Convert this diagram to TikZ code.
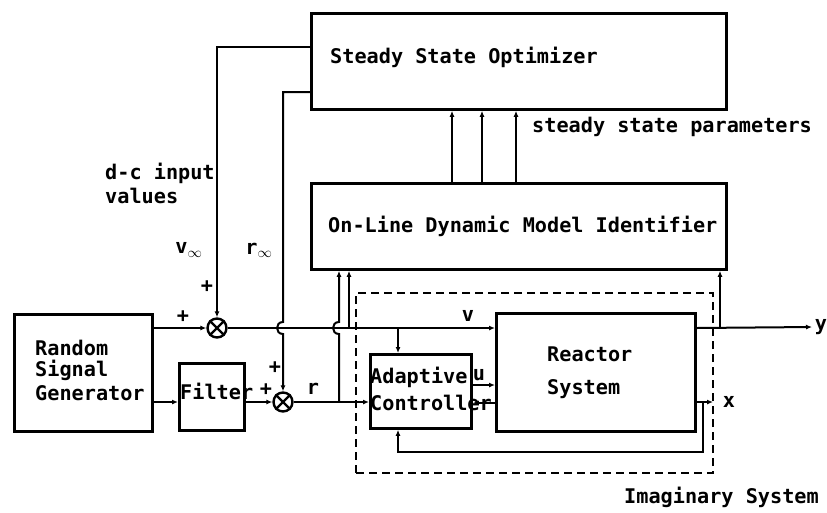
\documentclass[tikz,border=0pt]{standalone}
\usepackage{fontspec}
\setmonofont{DejaVu Sans Mono}
\usetikzlibrary{arrows.meta}
\begin{document}
\begin{tikzpicture}[x=1pt,y=-1pt,
  box/.style={draw,line width=2.8pt,inner sep=0pt,anchor=north west},
  lbl/.style={font=\ttfamily\bfseries\fontsize{20.2}{23}\selectfont,inner sep=0pt},
  ln/.style={line width=2pt},
  arr/.style={ln,-{Latex[length=6pt,width=5pt]}},
  sumj/.style={draw,circle,line width=2.4pt,minimum size=19pt,inner sep=0pt},
  imagbox/.style={draw,line width=2pt,dash pattern=on 8pt off 5pt,inner sep=0pt,anchor=north west},
]
\useasboundingbox (0,0) rectangle (827,512);

% boxes
\node[box,minimum width=415pt,minimum height=96pt] (sso) at (310,12) {};
\node[box,minimum width=415pt,minimum height=86pt] (ol) at (310,182) {};
\node[box,minimum width=138pt,minimum height=117pt] (rsg) at (13,313) {};
\node[box,minimum width=65pt,minimum height=67pt] (filt) at (178,362) {};
\node[box,minimum width=101pt,minimum height=74pt] (ac) at (369,353) {};
\node[box,minimum width=199pt,minimum height=118pt] (rs) at (495,312) {};
\node[imagbox,minimum width=357pt,minimum height=180pt] (imag) at (355,292) {};
\node[sumj] (j1) at (217,328) {};
\node[sumj] (j2) at (283,402) {};
\draw[line width=2.2pt] (j1.north west) -- (j1.south east) (j1.north east) -- (j1.south west);
\draw[line width=2.2pt] (j2.north west) -- (j2.south east) (j2.north east) -- (j2.south west);

% texts
\node[lbl,anchor=west] (tsso) at (330,57) {Steady State Optimizer};
\node[lbl,anchor=west] (tol) at (328,226) {On-Line Dynamic Model Identifier};
\node[lbl,anchor=west] (tssp) at (532,127) {steady state parameters};
\node[lbl,anchor=west] (tdc1) at (105,173) {d-c input};
\node[lbl,anchor=west] (tdc2) at (105,196) {values};
\node[lbl,anchor=west] (trsg1) at (35,348) {Random};
\node[lbl,anchor=west] (trsg2) at (35,370) {Signal};
\node[lbl,anchor=west] (trsg3) at (35,393) {Generator};
\node[lbl,anchor=west] (tfilt) at (180,391) {Filter};
\node[lbl,anchor=west] (tac1) at (370,377) {Adaptive};
\node[lbl,anchor=west] (tac2) at (370,403) {Controller};
\node[lbl,anchor=west] (trs1) at (547,354) {Reactor};
\node[lbl,anchor=west] (trs2) at (547,389) {System};
\node[lbl,anchor=west] (timag) at (624,497) {Imaginary System};
\node[lbl] (tv) at (468,316) {v};
\node[lbl] (tu) at (479,375) {u};
\node[lbl] (tr) at (313,389) {r};
\node[lbl] (tx) at (729,402) {x};
\node[lbl] (ty) at (821,327) {y};
\node[lbl] (tvinf) at (189,250) {v$_{\infty}$};
\node[lbl] (trinf) at (259,250) {r$_{\infty}$};
\node[lbl] (p1) at (183,317) {+};
\node[lbl] (p2) at (207,287) {+};
\node[lbl] (p3) at (275,368) {+};
\node[lbl] (p4) at (266,390) {+};

% coordinates
\coordinate (va) at (217,47);
\coordinate (ra) at (283,92);
\coordinate (yend) at (812,327);
\coordinate (xend) at (713,402);
\coordinate (fb) at (703,452);
\coordinate (fbx) at (398,452);
\coordinate (uy) at (0,385);
\coordinate (wy) at (0,403);
\coordinate (t1) at (339,402);
\coordinate (t2) at (349,328);
\coordinate (t3) at (720,327);
\coordinate (q1) at (452,0);
\coordinate (q2) at (482,0);
\coordinate (q3) at (516,0);

% connectors
\draw[arr] (rsg.east |- j1) -- (j1);
\draw[arr] (j1) -- (rs.west |- j1);
\draw[arr] (rs.east |- j1) -- (yend);
\draw[arr] (rs.east |- xend) -- (xend);
\draw[arr] (fb |- xend) -- (fb) -- (fbx) -- (fbx |- ac.south);
\draw[arr] (fbx |- j1) -- (fbx |- ac.north);
\draw[arr] (ac.east |- uy) -- (rs.west |- uy);
\draw[arr] (rs.west |- wy) -- (ac.east |- wy);
\draw[arr] (j2) -- (ac.west |- j2);
\draw[arr] (filt.east |- j2) -- (j2);
\draw[arr] (rsg.east |- j2) -- (filt.west |- j2);
\draw[arr] (sso.west |- va) -- (va) -- (j1);
\draw[arr] (sso.west |- ra) -- (ra) -- (283,322) .. controls (275,322) and (275,334) .. (283,334) -- (j2);
\draw[arr] (t1) -- (339,334) .. controls (331,334) and (331,322) .. (339,322) -- (t1 |- ol.south);
\draw[arr] (t2) -- (t2 |- ol.south);
\draw[arr] (t3) -- (t3 |- ol.south);
\draw[arr] (q1 |- ol.north) -- (q1 |- sso.south);
\draw[arr] (q2 |- ol.north) -- (q2 |- sso.south);
\draw[arr] (q3 |- ol.north) -- (q3 |- sso.south);
\end{tikzpicture}
\end{document}
